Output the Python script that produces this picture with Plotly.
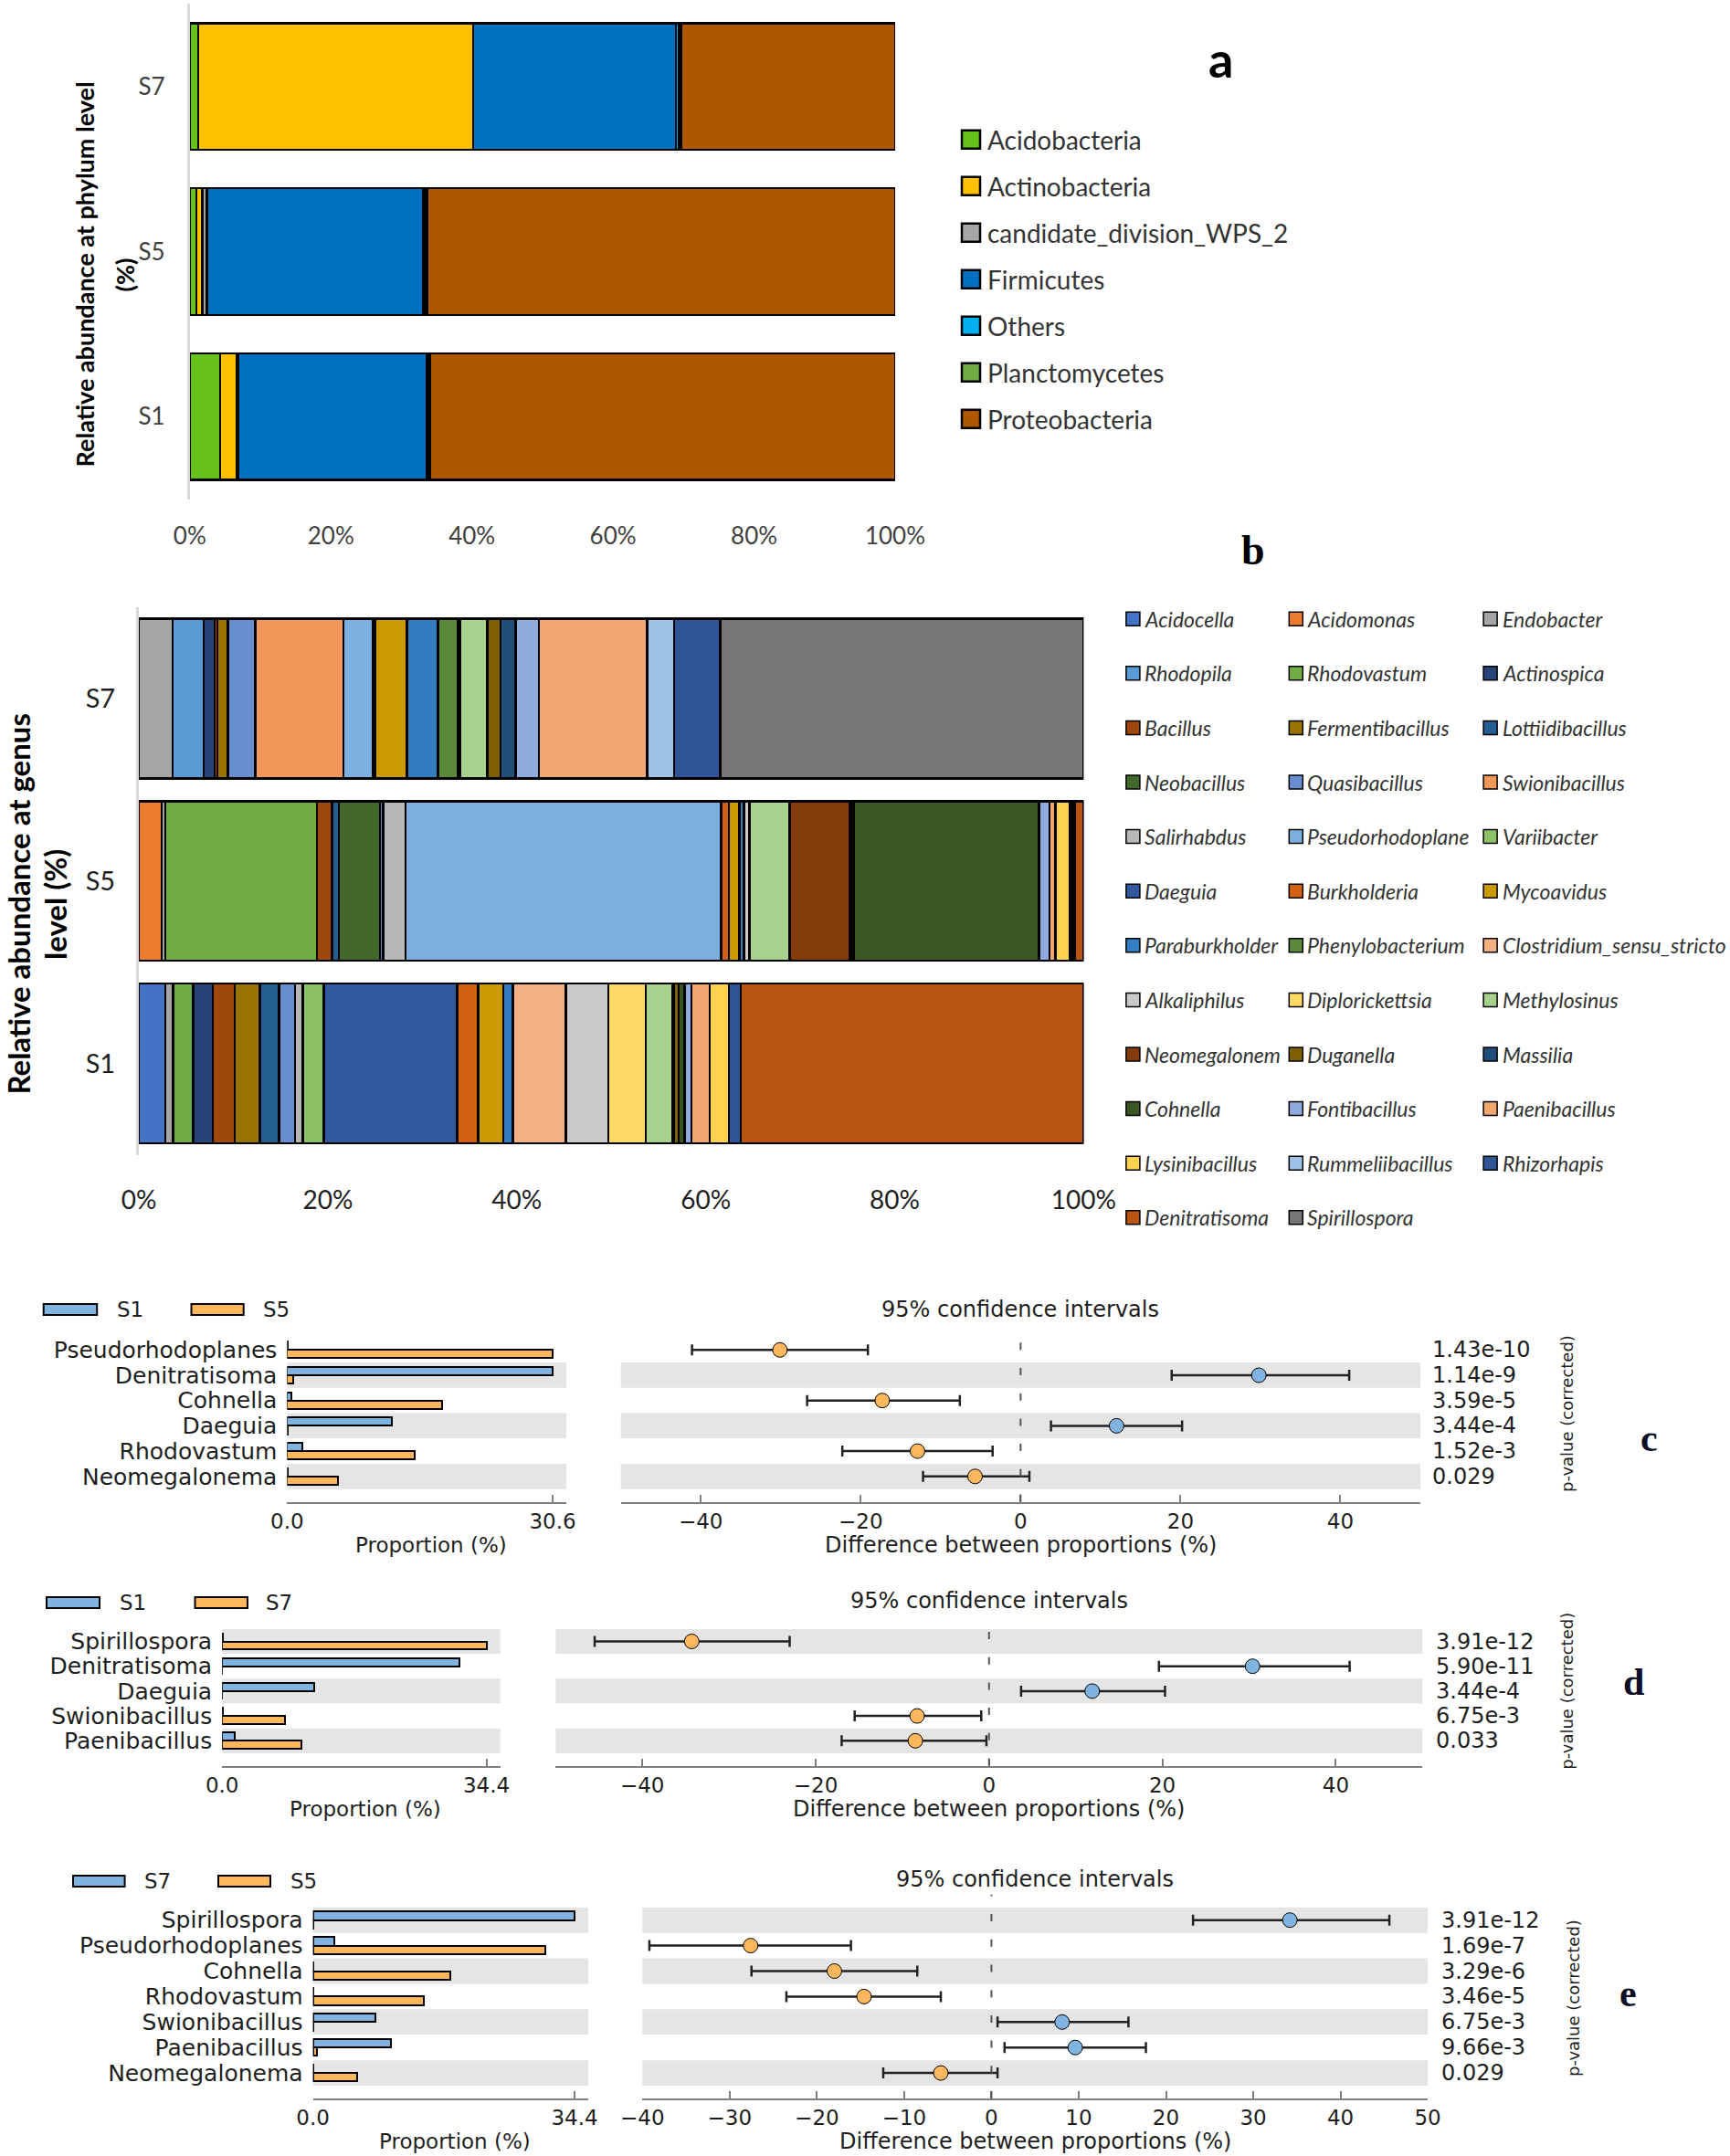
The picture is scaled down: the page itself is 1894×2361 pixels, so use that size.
import plotly.graph_objects as go

W, H = 1894, 2361

# ---------------- Panel a : phylum level ----------------
samples = ["S1", "S5", "S7"]
phyla = ["Acidobacteria", "Actinobacteria", "candidate_division_WPS_2", "Firmicutes",
         "Others", "Planctomycetes", "Proteobacteria"]
phylum_s1 = [4.3, 2.4, 0.1, 26.8, 0.3, 0.2, 65.9]
phylum_s5 = [0.9, 0.9, 0.6, 30.7, 0.3, 0.3, 66.3]
phylum_s7 = [1.2, 39.0, 0.0, 28.7, 0.4, 0.3, 30.4]
pct_ticks = [0, 20, 40, 60, 80, 100]
pct_ticktext = ["0%", "20%", "40%", "60%", "80%", "100%"]

# ---------------- Panel b : genus level ----------------
genera = ["Acidocella", "Acidomonas", "Endobacter", "Rhodopila", "Rhodovastum", "Actinospica",
          "Bacillus", "Fermentibacillus", "Lottiidibacillus", "Neobacillus", "Quasibacillus",
          "Swionibacillus", "Salirhabdus", "Pseudorhodoplanes", "Variibacter", "Daeguia",
          "Burkholderia", "Mycoavidus", "Paraburkholderia", "Phenylobacterium",
          "Clostridium_sensu_stricto", "Alkaliphilus", "Diplorickettsia", "Methylosinus",
          "Neomegalonema", "Duganella", "Massilia", "Cohnella", "Fontibacillus", "Paenibacillus",
          "Lysinibacillus", "Rummeliibacillus", "Rhizorhapis", "Denitratisoma", "Spirillospora"]
genus_legend_labels = ["Acidocella", "Acidomonas", "Endobacter", "Rhodopila", "Rhodovastum", "Actinospica",
                       "Bacillus", "Fermentibacillus", "Lottiidibacillus", "Neobacillus", "Quasibacillus",
                       "Swionibacillus", "Salirhabdus", "Pseudorhodoplane", "Variibacter", "Daeguia",
                       "Burkholderia", "Mycoavidus", "Paraburkholder", "Phenylobacterium",
                       "Clostridium_sensu_stricto", "Alkaliphilus", "Diplorickettsia", "Methylosinus",
                       "Neomegalonem", "Duganella", "Massilia", "Cohnella", "Fontibacillus", "Paenibacillus",
                       "Lysinibacillus", "Rummeliibacillus", "Rhizorhapis", "Denitratisoma", "Spirillospora"]
genus_s1 = [2.81, 0.0, 0.83, 0.0, 2.11, 2.07, 2.31, 2.68, 2.05, 0.0, 1.68, 0.0, 0.82, 0.0, 2.21,
            14.13, 2.21, 2.64, 1.04, 0.0, 5.59, 4.52, 3.94, 2.80, 0.20, 0.49, 0.0, 0.62, 0.76,
            1.90, 2.03, 0.0, 1.25, 36.31, 0.0]
genus_s5 = [0.0, 2.43, 0.35, 0.0, 16.09, 0.0, 1.58, 0.0, 0.70, 4.35, 0.38, 0.0, 2.34, 33.41, 0.0,
            0.0, 0.83, 1.09, 0.52, 0.0, 0.0, 0.58, 0.0, 4.22, 6.38, 0.20, 0.22, 19.61, 1.11,
            0.62, 1.55, 0.25, 0.25, 0.94, 0.0]
genus_s7 = [0.0, 0.0, 3.57, 3.28, 0.0, 1.15, 0.30, 1.14, 0.0, 0.0, 2.90, 9.32, 0.0, 3.14, 0.25,
            0.0, 0.0, 3.31, 3.28, 2.16, 0.23, 0.0, 0.0, 2.83, 0.0, 1.41, 1.59, 0.0, 2.49,
            11.46, 0.0, 2.83, 4.87, 0.0, 38.49]

# ---------------- Panels c, d, e : STAMP comparisons ----------------
c_groups = ["S1", "S5"]
c_features = ["Pseudorhodoplanes", "Denitratisoma", "Cohnella", "Daeguia", "Rhodovastum", "Neomegalonema"]
c_prop_a = [0.05, 30.6, 0.5, 12.1, 1.7, 0.05]
c_prop_b = [30.6, 0.7, 17.9, 0.05, 14.7, 5.9]
c_diff = [-30.1, 29.8, -17.3, 12.0, -12.9, -5.7]
c_lo = [-41.1, 18.9, -26.7, 3.8, -22.3, -12.2]
c_hi = [-19.1, 41.1, -7.6, 20.2, -3.5, 1.1]
c_pvalues = ["1.43e-10", "1.14e-9", "3.59e-5", "3.44e-4", "1.52e-3", "0.029"]
c_prop_ticks = [0.0, 30.6]
c_prop_ticktext = ["0.0", "30.6"]
c_ci_ticks = [-40, -20, 0, 20, 40]

d_groups = ["S1", "S7"]
d_features = ["Spirillospora", "Denitratisoma", "Daeguia", "Swionibacillus", "Paenibacillus"]
d_prop_a = [0.05, 30.9, 12.0, 0.05, 1.6]
d_prop_b = [34.4, 0.0, 0.0, 8.2, 10.3]
d_diff = [-34.3, 30.4, 11.9, -8.3, -8.5]
d_lo = [-45.5, 19.6, 3.7, -15.5, -17.0]
d_hi = [-23.0, 41.6, 20.3, -0.9, -0.3]
d_pvalues = ["3.91e-12", "5.90e-11", "3.44e-4", "6.75e-3", "0.033"]
d_prop_ticks = [0.0, 34.4]
d_prop_ticktext = ["0.0", "34.4"]
d_ci_ticks = [-40, -20, 0, 20, 40]

e_groups = ["S7", "S5"]
e_features = ["Spirillospora", "Pseudorhodoplanes", "Cohnella", "Rhodovastum", "Swionibacillus",
              "Paenibacillus", "Neomegalonema"]
e_prop_a = [34.4, 2.8, 0.05, 0.05, 8.2, 10.3, 0.05]
e_prop_b = [0.05, 30.5, 18.0, 14.6, 0.05, 0.5, 5.8]
e_diff = [34.2, -27.6, -18.0, -14.6, 8.1, 9.6, -5.8]
e_lo = [23.1, -39.2, -27.5, -23.5, 0.7, 1.5, -12.4]
e_hi = [45.6, -16.1, -8.5, -5.8, 15.7, 17.7, 0.7]
e_pvalues = ["3.91e-12", "1.69e-7", "3.29e-6", "3.46e-5", "6.75e-3", "9.66e-3", "0.029"]
e_prop_ticks = [0.0, 34.4]
e_prop_ticktext = ["0.0", "34.4"]
e_ci_ticks = [-40, -30, -20, -10, 0, 10, 20, 30, 40, 50]

# ---------------- styles ----------------
phylum_colors = ["#66C21A", "#FFC000", "#A6A6A6", "#0070C0", "#00B0F0", "#70AD47", "#AF5700"]
genus_colors = ["#4472C4", "#ED7D31", "#A5A5A5", "#5B9BD5", "#70AD47", "#264478",
                "#9E480E", "#997300", "#255E91", "#43682B", "#698ED0", "#F1975A",
                "#B7B7B7", "#7CAFDD", "#8CC168", "#335AA1", "#D26012", "#CC9A00",
                "#327DC2", "#5A8A39", "#F4B183", "#C9C9C9", "#FFD966", "#A9D18E",
                "#843C0C", "#7F6000", "#1F4E79", "#3A5724", "#8FAADC", "#F2A66F",
                "#FFD34F", "#9DC3E6", "#2F5597", "#B85410", "#767676"]
BLUE = "#80B3DF"
ORANGE = "#FFB75E"
BAND = "#E5E5E5"
STAMP_FONT = "DejaVu Sans"
XL_FONT = "Lato"
TXT = "#1e1e1e"


def fx(px):
    return px / W


def fy(py):
    return 1 - py / H


fig = go.Figure()
shapes = []
annotations = []


def ann(text, px, py, size, family, color=TXT, xanchor="center", yanchor="middle", angle=0):
    annotations.append(dict(text=text, x=fx(px), y=fy(py), xref="paper", yref="paper",
                            showarrow=False, font=dict(size=size, family=family, color=color),
                            xanchor=xanchor, yanchor=yanchor, textangle=angle))


def rect(x0, y0, x1, y1, fill, lw=2.0, lc="black"):
    shapes.append(dict(type="rect", xref="paper", yref="paper", x0=fx(x0), x1=fx(x1),
                       y0=fy(y1), y1=fy(y0), fillcolor=fill, line=dict(color=lc, width=lw)))


# ===== Panel a =====
phylum_values = [phylum_s1, phylum_s5, phylum_s7]
for i, ph in enumerate(phyla):
    fig.add_trace(go.Bar(y=samples, x=[v[i] for v in phylum_values], orientation="h", name=ph,
                         width=0.767, marker=dict(color=phylum_colors[i], line=dict(color="black", width=2.5)),
                         xaxis="x", yaxis="y", showlegend=False))

# ===== Panel b =====
genus_values = [genus_s1, genus_s5, genus_s7]
for i, g in enumerate(genera):
    fig.add_trace(go.Bar(y=samples, x=[v[i] for v in genus_values], orientation="h", name=g,
                         width=0.875, marker=dict(color=genus_colors[i], line=dict(color="black", width=2.5)),
                         xaxis="x2", yaxis="y2", showlegend=False))

layout_axes = {}
layout_axes["xaxis"] = dict(domain=[fx(207.8), fx(980)], anchor="y", range=[0, 100], tickvals=pct_ticks,
                            ticktext=pct_ticktext, showgrid=False, zeroline=False, ticks="", automargin=False,
                            ticklabelstandoff=22, tickfont=dict(family=XL_FONT, size=26, color="#404040"))
layout_axes["yaxis"] = dict(domain=[fy(546.6), fy(4.4)], anchor="x", range=[-0.5, 2.5], showgrid=False,
                            zeroline=False, showline=True, linecolor="#D9D9D9", linewidth=3, ticks="",
                            automargin=False,
                            ticklabelstandoff=19, tickfont=dict(family=XL_FONT, size=26, color="#404040"))
layout_axes["xaxis2"] = dict(domain=[fx(152), fx(1186.4)], anchor="y2", range=[0, 100], tickvals=pct_ticks,
                             ticktext=pct_ticktext, showgrid=False, zeroline=False, ticks="", automargin=False,
                             ticklabelstandoff=30, tickfont=dict(family=XL_FONT, size=28, color="#1e1e1e"))
layout_axes["yaxis2"] = dict(domain=[fy(1264.5), fy(665.1)], anchor="x2", range=[-0.5, 2.5], showgrid=False,
                             zeroline=False, showline=True, linecolor="#D9D9D9", linewidth=3, ticks="",
                             automargin=False,
                             ticklabelstandoff=17, tickfont=dict(family=XL_FONT, size=29, color="#1e1e1e"))

# panel a titles / legend
ann("<b>Relative abundance at phylum level</b>", 93.4, 300, 27, XL_FONT, color="black", angle=-90)
ann("<b>(%)</b>", 135.5, 301, 27, XL_FONT, color="black", angle=-90)
ann("<b>a</b>", 1336, 64, 54, XL_FONT, color="black")
for i, ph in enumerate(phyla):
    cy = 152.7 + i * 51.0
    rect(1053, cy - 10, 1073, cy + 10, phylum_colors[i], lw=2.5)
    ann(ph, 1079, cy, 28, XL_FONT, color="#333333", xanchor="left")

# panel b titles / legend
ann("<b>Relative abundance at genus</b>", 19.6, 990, 33, XL_FONT, color="black", angle=-90)
ann("<b>level (%)</b>", 60, 990, 33, XL_FONT, color="black", angle=-90)
ann("<b>b</b>", 1372, 602, 46, "Liberation Serif", color="black")
sq_x = [1232.9, 1411.3, 1624.1]
tx_x = [1251.0, 1429.0, 1642.5]
for i, lab in enumerate(genus_legend_labels):
    r, c = divmod(i, 3)
    cy = 677.7 + r * 59.6
    rect(sq_x[c], cy - 7.5, sq_x[c] + 15, cy + 7.5, genus_colors[i], lw=1.5)
    ann("<i>" + lab + "</i>", tx_x[c], cy, 23, XL_FONT, color="#333333", xanchor="left")


# ===== STAMP panels =====
def stamp_panel(k, groups, feats, pa, pb, diff, lo, hi, pvals, prop_ticks, prop_ticktext, ci_ticks,
                ci_range, prop_dom, ci_dom, row0, row_step, p_x, pv_lab, letter, leg):
    n = len(feats)
    rows = list(range(n))
    top = row0 - row_step
    bottom = top + (n + 1) * row_step
    xp, yp, xc, yc = f"x{k}", f"y{k}", f"x{k+1}", f"y{k+1}"
    prop_max = prop_ticks[-1] * 1.052
    fig.add_trace(go.Bar(y=rows, x=pa, base=0, orientation="h", width=0.33, offset=-0.33, name=groups[0],
                         marker=dict(color=BLUE, line=dict(color="black", width=2)),
                         xaxis=xp, yaxis=yp, showlegend=False))
    fig.add_trace(go.Bar(y=rows, x=pb, base=0, orientation="h", width=0.33, offset=0.0, name=groups[1],
                         marker=dict(color=ORANGE, line=dict(color="black", width=2)),
                         xaxis=xp, yaxis=yp, showlegend=False))
    fig.add_trace(go.Scatter(
        x=diff, y=rows, mode="markers", showlegend=False, xaxis=xc, yaxis=yc,
        error_x=dict(type="data", symmetric=False, array=[h - d for h, d in zip(hi, diff)],
                     arrayminus=[d - l for d, l in zip(diff, lo)], color="#222222", thickness=2.5, width=6),
        marker=dict(size=16, color=[BLUE if d > 0 else ORANGE for d in diff],
                    line=dict(color="black", width=1))))
    ydom = [fy(bottom), fy(top)]
    axis_common = dict(showgrid=False, zeroline=False, showline=True, linecolor="#7f7f7f", linewidth=1.5,
                       ticks="inside", ticklen=8, tickwidth=1.5, tickcolor="#7f7f7f", automargin=False,
                       tickfont=dict(family=STAMP_FONT, size=23, color=TXT))
    layout_axes[f"xaxis{k}"] = dict(domain=[fx(prop_dom[0]), fx(prop_dom[1])], anchor=yp, range=[0, prop_max],
                                    tickvals=prop_ticks, ticktext=prop_ticktext, **axis_common)
    layout_axes[f"yaxis{k}"] = dict(domain=ydom, anchor=xp, range=[n, -1], showgrid=False, zeroline=False,
                                    showline=False, ticks="", tickvals=rows, ticktext=feats,
                                    ticklabelstandoff=10, automargin=False,
                                    tickfont=dict(family=STAMP_FONT, size=25, color=TXT))
    layout_axes[f"xaxis{k+1}"] = dict(domain=[fx(ci_dom[0]), fx(ci_dom[1])], anchor=yc, range=ci_range,
                                      tickvals=ci_ticks, **axis_common)
    layout_axes[f"yaxis{k+1}"] = dict(domain=ydom, anchor=xc, range=[n, -1], showgrid=False, zeroline=False,
                                      showline=False, showticklabels=False, ticks="", automargin=False)
    for i in rows:
        if (n - 1 - i) % 2 == 0:
            for xr, yr in ((xp, yp), (xc, yc)):
                shapes.append(dict(type="rect", xref=f"{xr} domain", yref=yr, x0=0, x1=1,
                                   y0=i - 0.5, y1=i + 0.5, fillcolor=BAND, line=dict(width=0), layer="below"))
    shapes.append(dict(type="line", xref=xc, yref=f"{yc} domain", x0=0, x1=0, y0=0, y1=1,
                       line=dict(color="#555555", width=2, dash="8px,19.7px"), layer="above"))
    # texts
    ann("95% confidence intervals", (ci_dom[0] + ci_dom[1]) / 2, top - 17, 24, STAMP_FONT)
    ann("Proportion (%)", (prop_dom[0] + prop_dom[1]) / 2 + 5, bottom + 47, 23, STAMP_FONT)
    ann("Difference between proportions (%)", (ci_dom[0] + ci_dom[1]) / 2, bottom + 47, 24, STAMP_FONT)
    for i, pv in enumerate(pvals):
        ann(pv, p_x, row0 + i * row_step, 24, STAMP_FONT, xanchor="left")
    ann("p-value (corrected)", pv_lab[0], pv_lab[1], 18, STAMP_FONT, angle=-90)
    ann("<b>" + letter + "</b>", letter_pos[letter][0], letter_pos[letter][1], 42, "Liberation Serif",
        color="#0d0d26")
    # group legend
    (b1x0, b1x1, t1x, b2x0, b2x1, t2x, ly) = leg
    rect(b1x0, ly - 6, b1x1, ly + 6, BLUE, lw=2)
    rect(b2x0, ly - 6, b2x1, ly + 6, ORANGE, lw=2)
    ann(groups[0], t1x, ly, 23, STAMP_FONT, xanchor="left")
    ann(groups[1], t2x, ly, 23, STAMP_FONT, xanchor="left")


letter_pos = {"c": (1805, 1575), "d": (1788.5, 1841.7), "e": (1782, 2183)}

stamp_panel(3, c_groups, c_features, c_prop_a, c_prop_b, c_diff, c_lo, c_hi, c_pvalues,
            c_prop_ticks, c_prop_ticktext, c_ci_ticks, [-50, 50], (314.4, 620.1), (679.7, 1555.0),
            1478.3, 27.7, 1565.5, (1715, 1548), "c", (47.7, 106.2, 125.8, 209.5, 266.7, 286.0, 1434))
stamp_panel(5, d_groups, d_features, d_prop_a, d_prop_b, d_diff, d_lo, d_hi, d_pvalues,
            d_prop_ticks, d_prop_ticktext, d_ci_ticks, [-50, 50], (243.2, 547.6), (608.3, 1557.3),
            1797.5, 27.2, 1569.7, (1716, 1851.7), "d", (51.0, 109.0, 128.5, 213.5, 271.0, 288.6, 1755))
stamp_panel(7, e_groups, e_features, e_prop_a, e_prop_b, e_diff, e_lo, e_hi, e_pvalues,
            e_prop_ticks, e_prop_ticktext, e_ci_ticks, [-40, 50], (342.6, 644.0), (703.3, 1563.1),
            2102.7, 27.9, 1575.7, (1722, 2188), "e", (80.0, 136.6, 156.0, 239.0, 296.0, 315.7, 2060))

fig.update_layout(
    width=W, height=H, margin=dict(l=0, r=0, t=0, b=0, pad=0, autoexpand=False),
    paper_bgcolor="white", plot_bgcolor="rgba(0,0,0,0)",
    barmode="stack", showlegend=False,
    shapes=shapes, annotations=annotations,
    **layout_axes,
)

fig.write_html("out.html", config={"displayModeBar": False},
               post_script="document.body.style.margin='0';document.body.style.overflow='hidden';")
